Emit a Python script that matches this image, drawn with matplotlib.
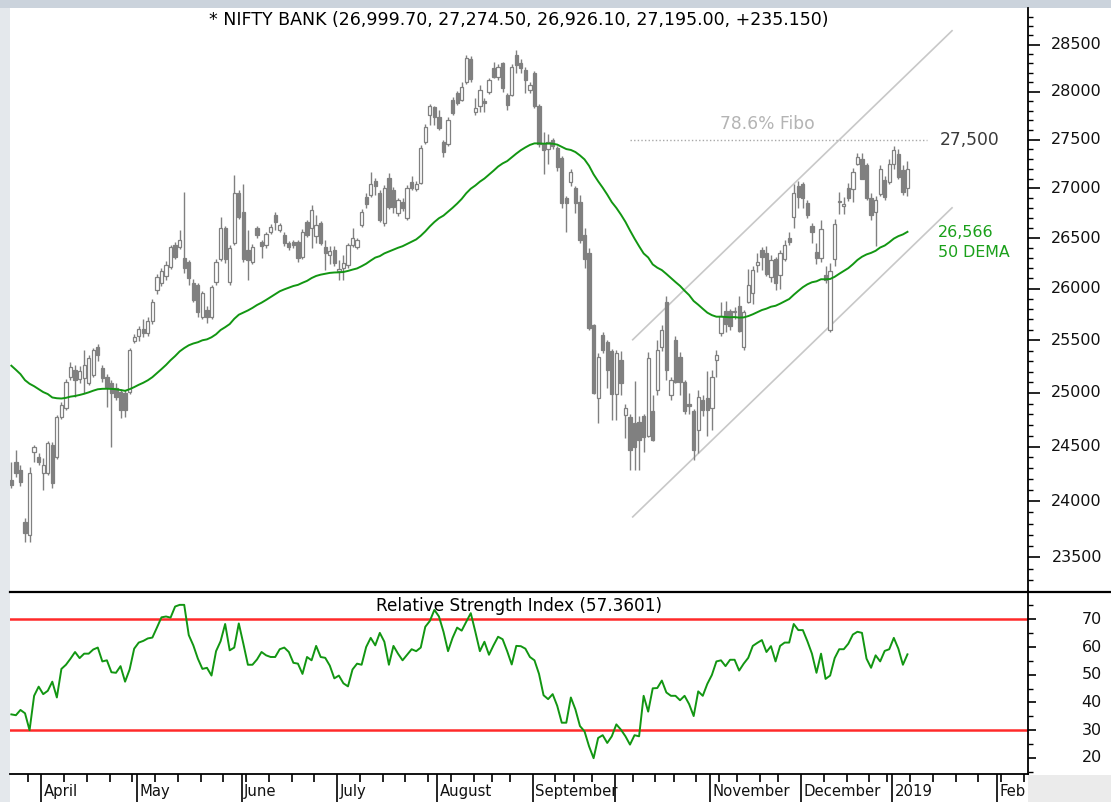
import matplotlib
matplotlib.use("Agg")
import matplotlib.pyplot as plt
from matplotlib.patches import Rectangle
from matplotlib.lines import Line2D
from matplotlib.ticker import NullFormatter
import numpy as np
import pandas as pd

# ---------------- data ----------------
instrument = "NIFTY BANK"
start_date = "2018-03-20"
axis_end_date = "2019-02-20"
holidays = ["2018-03-29", "2018-03-30", "2018-08-15", "2018-08-22", "2018-09-13",
            "2018-09-20", "2018-10-02", "2018-10-18", "2018-11-08", "2018-11-23",
            "2018-12-25"]

opens = [24195, 24360, 24285, 23815, 23700, 24450, 24405, 24258, 24258, 24515,
         24404, 24775, 24859, 25151, 25218, 25130, 25142, 25095, 25170, 25436,
         25237, 25150, 25095, 25047, 25009, 25000, 25009, 25495, 25540, 25610,
         25570, 25690, 25990, 26060, 26120, 26216, 26433, 26413, 26304, 26265,
         26060, 26040, 25726, 25794, 25726, 26069, 26290, 26600, 26062, 26450,
         26954, 26760, 26383, 26265, 26603, 26460, 26430, 26563, 26733, 26583,
         26533, 26453, 26463, 26463, 26314, 26663, 26600, 26520, 26650, 26413,
         26330, 26383, 26176, 26200, 26235, 26433, 26413, 26633, 26915, 26935,
         27070, 26954, 26648, 27110, 26988, 26753, 26860, 26703, 27060, 26990,
         27058, 27480, 27760, 27835, 27730, 27480, 27450, 27916, 27990, 27916,
         28100, 28350, 27790, 27850, 27900, 28000, 28255, 28160, 28300, 27970,
         27970, 28390, 28300, 28233, 28022, 28200, 27850, 27450, 27400, 27500,
         27415, 27313, 26900, 27060, 27000, 26865, 26533, 26353, 25650, 24950,
         25550, 25480, 25400, 24990, 25313, 24790, 24770, 24720, 24730, 24780,
         24600, 24830, 25030, 25440, 25870, 24980, 25500, 25340, 25100, 24900,
         24830, 24650, 24930, 24950, 24860, 25310, 25570, 25780, 25780, 25770,
         25830, 25440, 25870, 25960, 26230, 26380, 26350, 26110, 26290, 26130,
         26290, 26500, 26710, 27020, 27040, 26850, 26620, 26360, 26300, 26130,
         25600, 26290, 26860, 26820, 27000, 26990, 27250, 27300, 27240, 26900,
         26760, 26940, 27090, 27060, 27250, 27350, 27190, 26999.70]
highs = [24360, 24470, 24330, 23850, 24310, 24515, 24445, 24395, 24550, 24540,
         24795, 24910, 25130, 25294, 25260, 25250, 25408, 25360, 25430, 25460,
         25260, 25180, 25120, 25090, 25040, 25030, 25430, 25560, 25640, 25700,
         25720, 25900, 26140, 26200, 26270, 26430, 26460, 26583, 26965, 26280,
         26090, 26060, 25980, 25830, 26040, 26290, 26710, 26620, 26430, 27140,
         26980, 27040, 26583, 26440, 26620, 26483, 26560, 26640, 26763, 26650,
         26560, 26470, 26480, 26480, 26590, 26680, 26830, 26730, 26670, 26483,
         26420, 26420, 26284, 26334, 26450, 26603, 26500, 26790, 26954, 27170,
         27110, 26980, 27030, 27160, 27010, 26900, 26900, 27030, 27130, 27070,
         27440, 27660, 27870, 27850, 27810, 27500, 27730, 27940, 28010, 28100,
         28390, 28380, 27937, 28070, 27937, 28150, 28320, 28290, 28320, 27990,
         28290, 28440, 28350, 28260, 28100, 28220, 27870, 27580, 27555, 27520,
         27430, 27330, 26920, 27200, 27020, 26930, 26600, 26400, 25660, 25380,
         25580, 25500, 25420, 25410, 25400, 24900, 24800, 25110, 24780, 24800,
         25390, 24980, 25500, 25650, 25930, 25150, 25540, 25390, 25120, 25000,
         24850, 25030, 24980, 25210, 25220, 25410, 25870, 25880, 25800, 25820,
         25930, 25790, 26190, 26220, 26350, 26410, 26420, 26330, 26310, 26380,
         26480, 26560, 27040, 27070, 27060, 26880, 26650, 26450, 26680, 26220,
         26250, 26690, 26960, 26910, 27050, 27210, 27360, 27360, 27260, 26950,
         26920, 27240, 27130, 27300, 27430, 27400, 27240, 27274.50]
lows = [24120, 24220, 24140, 23636, 23640, 24360, 24330, 24103, 24240, 24120,
        24390, 24760, 24840, 25123, 24962, 25090, 25000, 25070, 25150, 25300,
        25100, 24870, 24496, 24930, 24766, 24775, 24990, 25470, 25490, 25530,
        25540, 25660, 25950, 26030, 26080, 26190, 26290, 26390, 26150, 26040,
        25870, 25725, 25700, 25668, 25700, 26040, 26270, 26250, 26040, 26430,
        26690, 26260, 26088, 26240, 26500, 26304, 26400, 26540, 26583, 26560,
        26420, 26380, 26400, 26265, 26290, 26510, 26402, 26453, 26430, 26186,
        26240, 26220, 26088, 26088, 26200, 26413, 26390, 26610, 26800, 26910,
        26935, 26660, 26620, 26790, 26753, 26720, 26770, 26680, 26980, 26970,
        27040, 27450, 27650, 27650, 27600, 27320, 27430, 27760, 27860, 27900,
        28080, 28100, 27760, 27790, 27790, 27980, 28140, 28120, 28000, 27810,
        27950, 28200, 28200, 27990, 27990, 27830, 27420, 27150, 27245, 27400,
        27180, 26800, 26560, 27020, 26750, 26450, 26200, 25600, 24990, 24720,
        25380, 25050, 24750, 24750, 24980, 24580, 24285, 24285, 24285, 24450,
        24590, 24550, 24980, 25400, 25120, 24930, 25090, 24980, 24800, 24800,
        24380, 24440, 24780, 24600, 24650, 25150, 25540, 25580, 25600, 25700,
        25580, 25410, 25860, 25850, 26160, 26180, 26120, 26070, 25990, 26000,
        26270, 26430, 26600, 26800, 26800, 26700, 26450, 26240, 26260, 26060,
        25580, 26220, 26740, 26740, 26870, 26860, 27240, 27100, 26880, 26680,
        26420, 26920, 26880, 27040, 27200, 27100, 26930, 26926.10]
closes = [24150, 24260, 24175, 23715, 24260, 24495, 24360, 24331, 24533, 24167,
          24775, 24887, 25104, 25246, 25123, 25210, 25265, 25332, 25408, 25360,
          25142, 25057, 25000, 24962, 24840, 24840, 25408, 25533, 25610, 25570,
          25690, 25870, 26110, 26170, 26235, 26413, 26314, 26483, 26206, 26108,
          25891, 25775, 25960, 25726, 26018, 26265, 26600, 26290, 26400, 26950,
          26713, 26290, 26284, 26413, 26533, 26420, 26540, 26613, 26663, 26633,
          26453, 26413, 26433, 26304, 26563, 26533, 26780, 26630, 26453, 26353,
          26370, 26255, 26196, 26250, 26433, 26503, 26483, 26763, 26845, 27040,
          27020, 26683, 27008, 26815, 26815, 26884, 26800, 27008, 27000, 27040,
          27415, 27635, 27845, 27740, 27625, 27375, 27708, 27780, 27885, 28050,
          28360, 28130, 27825, 28022, 27880, 28120, 28160, 28265, 28040, 27865,
          28265, 28285, 28250, 28127, 28075, 27855, 27450, 27395, 27480, 27430,
          27220, 26847, 26847, 27170, 26847, 26483, 26294, 25620, 25000, 25340,
          25408, 25220, 24990, 25380, 25093, 24860, 24470, 24500, 24560, 24590,
          25330, 24560, 25410, 25600, 25220, 25120, 25100, 25100, 24830, 24880,
          24470, 24960, 24840, 24840, 25150, 25360, 25730, 25660, 25640, 25780,
          25590, 25770, 26040, 26180, 26260, 26310, 26140, 26280, 26060, 26350,
          26430, 26460, 26950, 26910, 26900, 26730, 26560, 26300, 26590, 26080,
          26170, 26640, 26870, 26840, 26900, 27170, 27320, 27100, 26900, 26730,
          26880, 27200, 26910, 27250, 27390, 27120, 26959.85, 27195.00]

rsi = [35.7, 35.4, 37.3, 36.1, 30.0, 42.4, 45.7, 43.0, 44.2, 47.5,
       41.8, 52.1, 53.6, 55.8, 58.2, 56.0, 57.6, 57.6, 59.1, 59.8,
       54.8, 55.2, 50.9, 50.7, 53.1, 47.5, 51.9, 59.4, 61.6, 62.2,
       63.1, 63.4, 67.0, 70.7, 71.0, 70.6, 74.6, 75.2, 75.2, 64.3,
       60.6, 55.8, 52.1, 52.5, 49.7, 58.5, 62.1, 68.3, 58.8, 59.8,
       68.5, 61.2, 53.6, 53.6, 55.5, 58.2, 57.0, 56.4, 56.4, 59.2,
       59.8, 58.2, 54.3, 54.0, 50.3, 56.4, 55.2, 60.4, 56.4, 56.1,
       53.3, 48.7, 49.7, 46.9, 45.8, 51.9, 54.0, 53.6, 60.0, 63.3,
       60.6, 65.1, 61.9, 53.6, 60.4, 57.6, 55.2, 57.2, 59.2, 58.5,
       59.8, 67.3, 69.4, 73.4, 71.0, 65.5, 58.5, 63.3, 67.0, 65.9,
       69.1, 72.2, 65.5, 58.5, 61.9, 57.2, 60.6, 63.7, 62.8, 58.5,
       53.7, 60.4, 60.3, 59.4, 56.4, 55.2, 50.3, 42.6, 41.2, 43.0,
       38.8, 32.7, 32.7, 41.8, 37.5, 31.5, 29.6, 24.2, 19.9, 27.2,
       28.2, 25.4, 27.8, 32.1, 30.2, 27.8, 24.8, 28.2, 27.8, 42.4,
       36.7, 45.1, 45.2, 47.9, 43.6, 42.4, 42.4, 40.8, 42.4, 39.4,
       35.1, 44.0, 42.4, 46.7, 49.9, 54.8, 55.2, 53.1, 55.4, 55.4,
       51.5, 54.0, 56.1, 60.4, 61.5, 62.5, 58.2, 60.3, 54.8, 60.4,
       61.6, 61.6, 68.3, 66.1, 66.1, 62.1, 57.6, 50.7, 57.6, 48.5,
       49.7, 56.0, 59.2, 59.2, 61.2, 64.5, 65.5, 65.1, 55.8, 52.5,
       57.0, 54.8, 58.6, 59.2, 63.3, 59.4, 53.6, 57.3601]

ema_period = 50
ema_seed = 25257          # 50 DEMA value at the first visible bar
dema_last_label = 26566   # value printed on the chart
rsi_upper, rsi_lower = 70, 30

fibo_level = 27500
fibo_span = [136.1, 201.4]           # bar positions where the dotted line runs
channel_x = [136.6, 206.8]
channel_upper = [25505, 28650]
channel_lower = [23860, 26803]

price_ticks = [23500, 24000, 24500, 25000, 25500, 26000, 26500, 27000, 27500, 28000, 28500]
rsi_ticks = [20, 30, 40, 50, 60, 70]
month_names = {4: "April", 5: "May", 6: "June", 7: "July", 8: "August", 9: "September",
               10: "", 11: "November", 12: "December", 1: "2019", 2: "Feb"}

# ---------------- figure ----------------
W, H = 1111, 802
fig = plt.figure(figsize=(W / 100, H / 100), dpi=100)
fig.patch.set_facecolor("#e4e8ec")


def fx(px):
    return px / W


def fy(py):
    return 1 - py / H


def bg_rect(x0, y0, w, h, color):
    r = Rectangle((x0, y0), w, h, transform=fig.transFigure, facecolor=color,
                  edgecolor="none", zorder=-10)
    fig.add_artist(r)


bg_rect(0, fy(8), 1, 1 - fy(8), "#cbd3dc")
bg_rect(fx(10), fy(775), 1 - fx(10), fy(8) - fy(775), "white")
bg_rect(fx(10), 0, fx(1028) - fx(10), fy(775), "white")
bg_rect(fx(1028), 0, 1 - fx(1028), fy(775), "#ebebeb")

ax = fig.add_axes([fx(10), fy(591), fx(1028) - fx(10), fy(8) - fy(591)])
ax2 = fig.add_axes([fx(10), fy(774), fx(1028) - fx(10), fy(591) - fy(774)])
for a in (ax, ax2):
    a.set_facecolor("none")
    for s in ("left", "top"):
        a.spines[s].set_visible(False)
    a.spines["right"].set_color("black")
    a.spines["right"].set_linewidth(1.3)
ax.spines["bottom"].set_visible(False)
ax2.spines["bottom"].set_linewidth(1.3)

O = np.array(opens, float)
Hi = np.array(highs, float)
Lo = np.array(lows, float)
C = np.array(closes, float)
n = len(C)
x = np.arange(n)

# trading calendar
days = pd.bdate_range(start_date, axis_end_date)
days = days[~days.isin(pd.to_datetime(holidays))]

gray = "#808080"
green = "#129612"

xmin, xmax = -0.3, 223.5
ax.set_yscale("log")

# channel + fibo
ax.plot(channel_x, channel_upper, color="#c8c8c8", lw=1.2, zorder=1)
ax.plot(channel_x, channel_lower, color="#c8c8c8", lw=1.2, zorder=1)
ax.plot(fibo_span, [fibo_level, fibo_level], color="#a8a8a8", lw=1.0,
        ls=(0, (1, 1.6)), zorder=1)

# candles
ax.vlines(x, Lo, Hi, color=gray, lw=1.0, zorder=2)
up = C >= O
bot = np.minimum(O, C)
hgt = np.abs(C - O)
bw = 0.72
ax.bar(x[up], hgt[up], bottom=bot[up], width=bw, facecolor="white",
       edgecolor=gray, linewidth=0.9, zorder=3)
ax.bar(x[~up], hgt[~up], bottom=bot[~up], width=bw, facecolor=gray,
       edgecolor=gray, linewidth=0.9, zorder=3)

# 50 DEMA line
alpha = 2.0 / (ema_period + 1)
ema = [ema_seed]
for c in C[1:]:
    ema.append(ema[-1] + alpha * (c - ema[-1]))
ema = np.array(ema)
ax.plot(x, ema, color=green, lw=1.4, zorder=4)

# price axis ticks (right)
ax.set_xticks([])
ax.yaxis.tick_right()
ax.set_yticks(price_ticks)
minor_p = [v for v in range(23300, 28900, 100) if v % 500]
ax.set_yticks(minor_p, minor=True)
ax.yaxis.set_major_formatter(NullFormatter())
ax.yaxis.set_minor_formatter(NullFormatter())
ax.tick_params(axis="y", which="major", direction="out", length=8.5, width=1.2,
               color="black", right=True, left=False)
ax.tick_params(axis="y", which="minor", direction="out", length=3.8, width=1.0,
               color="black", right=True, left=False)
ax.set_xlim(xmin, xmax)
ax.set_ylim(23204, 28896)

# texts on the price panel
ax.text(0.5, 0.979, f"* {instrument} ({O[-1]:,.2f}, {Hi[-1]:,.2f}, {Lo[-1]:,.2f}, "
        f"{C[-1]:,.2f}, +{C[-1] - C[-2]:.3f})", transform=ax.transAxes,
        ha="center", va="center", fontsize=12.5, color="#000000")
ax.annotate("78.6% Fibo", xy=(166.2, fibo_level), xytext=(0, 5), textcoords="offset points",
            ha="center", va="bottom", fontsize=12.3, color="#b4b4b4")
ax.annotate(f"{fibo_level:,}", xy=(204.1, fibo_level), ha="left", va="center",
            fontsize=12.3, color="#3a3a3a")
ax.annotate(f"{dema_last_label:,}\n{ema_period} DEMA", xy=(n - 1, ema[-1]), xytext=(22, 5),
            textcoords="offset points", ha="left", va="top", fontsize=11.4,
            color="#1aa01a", linespacing=1.45)

lab_x = (1102 - 10) / 1018
for v in price_ticks:
    ax.text(lab_x, v, f"{v}", transform=ax.get_yaxis_transform(), ha="right",
            va="center", fontsize=11.5, color="#111111")

# RSI panel
ax2.axhline(rsi_upper, color="#ff2a2a", lw=1.8, zorder=1)
ax2.axhline(rsi_lower, color="#ff2a2a", lw=1.8, zorder=1)
ax2.plot(x, rsi, color=green, lw=1.4, zorder=3)
ax2.text(0.5, 0.918, f"Relative Strength Index ({rsi[-1]:.4f})", transform=ax2.transAxes,
         ha="center", va="center", fontsize=12.2, color="#000000")
ax2.yaxis.tick_right()
ax2.set_yticks(rsi_ticks)
ax2.set_yticks([15, 25, 35, 45, 55, 65, 75], minor=True)
ax2.yaxis.set_major_formatter(NullFormatter())
ax2.yaxis.set_minor_formatter(NullFormatter())
ax2.tick_params(axis="y", which="major", direction="out", length=6, width=1.2,
                color="black", right=True, left=False)
ax2.tick_params(axis="y", which="minor", direction="out", length=3.5, width=1.0,
                color="black", right=True, left=False)
for v in rsi_ticks:
    ax2.text(lab_x, v, f"{v}", transform=ax2.get_yaxis_transform(), ha="right",
             va="center", fontsize=11.5, color="#111111")

# time axis: weekly ticks and month separators (only inside the visible range)
dser = pd.Series(days)
wk = dser.dt.isocalendar().week.values
mo = dser.dt.month.values
shift = 0.4
week_pos = [i for i in range(1, len(days)) if wk[i] != wk[i - 1] and xmin < i - shift < xmax]
month_pos = [i for i in range(1, len(days)) if mo[i] != mo[i - 1] and xmin < i - shift < xmax]
ax2.set_xticks([p - shift for p in month_pos])
ax2.set_xticks([p - shift for p in week_pos], minor=True)
ax2.xaxis.set_major_formatter(NullFormatter())
ax2.tick_params(axis="x", which="major", direction="out", length=20, width=1.2, color="black")
ax2.tick_params(axis="x", which="minor", direction="out", length=5.8, width=1.2, color="black")
ax2.set_xlim(xmin, xmax)
ax2.set_ylim(14.2, 80.2)
for p in month_pos:
    lbl = month_names.get(mo[p], "")
    if lbl:
        ax2.text(p - shift + 0.55, -0.098, lbl, transform=ax2.get_xaxis_transform(),
                 ha="left", va="center", fontsize=10.7, color="#111111")

# separator line between the panels (runs across the label column too)
fig.add_artist(Line2D([fx(10), 1], [fy(592), fy(592)], transform=fig.transFigure,
                      color="black", lw=1.6))

fig.savefig("out.png", dpi=100, facecolor=fig.get_facecolor())
